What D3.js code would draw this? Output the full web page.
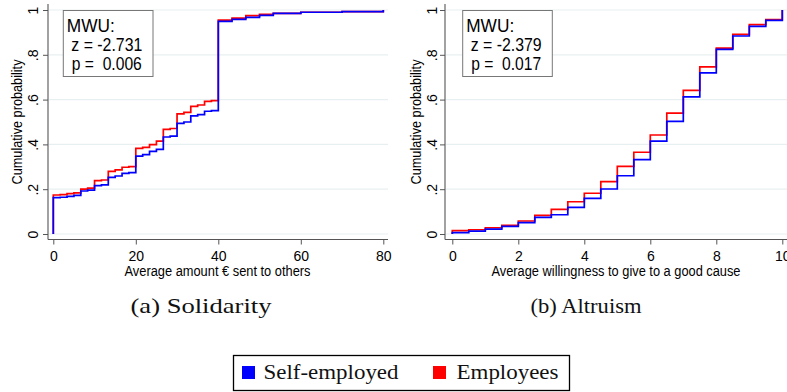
<!DOCTYPE html>
<html>
<head>
<meta charset="utf-8">
<script src="https://cdn.jsdelivr.net/npm/d3@7"></script>
<style>
  body { margin: 0; background: #fff; }
  svg { display: block; }
</style>
</head>
<body>
<svg id="chart" width="787" height="392"></svg>
<script>
// ---- Solidarity: average amount (€) sent to others ----
const solidarityX = [0, 1.67, 3.33, 5, 6.67, 8.33, 10, 11.67, 13.33, 15, 16.67, 18.33, 20, 21.67,
  23.33, 25, 26.67, 28.33, 30, 31.67, 33.33, 35, 36.67, 38.33, 40, 43.33, 46.67, 50, 53.33, 60, 70, 80];
const solidaritySelfEmployed = [0.162, 0.164, 0.168, 0.172, 0.192, 0.196, 0.216, 0.219, 0.253, 0.259,
  0.271, 0.274, 0.348, 0.354, 0.369, 0.378, 0.433, 0.437, 0.494, 0.500, 0.527, 0.533, 0.548, 0.551,
  0.949, 0.958, 0.967, 0.976, 0.985, 0.990, 0.993, 1.0];
const solidarityEmployees = [0.174, 0.176, 0.180, 0.184, 0.200, 0.205, 0.238, 0.241, 0.280, 0.286,
  0.298, 0.301, 0.382, 0.387, 0.399, 0.415, 0.467, 0.471, 0.536, 0.543, 0.570, 0.576, 0.592, 0.595,
  0.955, 0.964, 0.975, 0.981, 0.985, 0.990, 0.993, 1.0];
const solidarityTicks = [0, 20, 40, 60, 80];
const solidarityMWU = ["MWU:", "z = -2.731", "p =  0.006"];

// ---- Altruism: average willingness to give to a good cause ----
const altruismX = [0, 0.5, 1, 1.5, 2, 2.5, 3, 3.5, 4, 4.5, 5, 5.5, 6, 6.5, 7, 7.5, 8, 8.5, 9, 9.5, 10];
const altruismSelfEmployed = [0.006, 0.013, 0.022, 0.034, 0.051, 0.074, 0.086, 0.119, 0.159, 0.201,
  0.260, 0.332, 0.415, 0.503, 0.612, 0.719, 0.824, 0.884, 0.927, 0.954, 1.0];
const altruismEmployees = [0.015, 0.019, 0.028, 0.039, 0.058, 0.083, 0.110, 0.144, 0.182, 0.234,
  0.302, 0.365, 0.442, 0.540, 0.641, 0.746, 0.830, 0.891, 0.935, 0.957, 1.0];
const altruismTicks = [0, 2, 4, 6, 8, 10];
const altruismMWU = ["MWU:", "z = -2.379", "p =  0.017"];

// ---- shared ----
const probTicks = [0, 0.2, 0.4, 0.6, 0.8, 1];
const probTickLabels = ["0", ".2", ".4", ".6", ".8", "1"];
const seriesNames = ["Self-employed", "Employees"];
const seriesColors = ["#0000ff", "#ff0000"];
const yTitle = "Cumulative probability";
const captions = ["(a) Solidarity", "(b) Altruism"];

const SANS = "'Liberation Sans', Arial, Helvetica, sans-serif";
const SERIF = "'Liberation Serif', 'Times New Roman', serif";
const AXIS_COLOR = "#555";
const GRID_COLOR = "#e8eff1";

const svg = d3.select("#chart");
const yScale = d3.scaleLinear().domain([0, 1]).range([234, 10]);
const xAxisY = 239.5;

function drawPanel(p) {
  const g = svg.append("g");
  const x = d3.scaleLinear().domain(p.domain).range(p.range);

  // horizontal grid
  g.append("g").selectAll("line").data(probTicks).join("line")
    .attr("x1", p.axisX + 1).attr("x2", p.right)
    .attr("y1", d => yScale(d)).attr("y2", d => yScale(d))
    .attr("stroke", GRID_COLOR).attr("stroke-width", 1.2);

  // y axis
  const yAxis = g.append("g").attr("transform", `translate(${p.axisX},0)`)
    .call(d3.axisLeft(yScale).tickValues(probTicks)
      .tickFormat((d, i) => probTickLabels[i]).tickSize(5).tickPadding(0));
  yAxis.select(".domain").remove();
  yAxis.selectAll(".tick line").attr("stroke", AXIS_COLOR);
  yAxis.selectAll(".tick text")
    .attr("transform", "rotate(-90)")
    .attr("x", 0).attr("y", p.yLabelOffset).attr("dy", 0)
    .attr("text-anchor", "middle")
    .style("font-family", SANS).style("font-size", "14px").attr("fill", "#000");
  g.append("line").attr("x1", p.axisX).attr("x2", p.axisX)
    .attr("y1", 4).attr("y2", xAxisY).attr("stroke", AXIS_COLOR).attr("stroke-width", 1.1);

  // x axis
  const xAxis = g.append("g").attr("transform", `translate(0,${xAxisY})`)
    .call(d3.axisBottom(x).tickValues(p.ticks).tickFormat(d3.format("d")).tickSize(5).tickPadding(0));
  xAxis.select(".domain").remove();
  xAxis.selectAll(".tick line").attr("stroke", AXIS_COLOR);
  xAxis.selectAll(".tick text").attr("y", 21).attr("dy", 0)
    .style("font-family", SANS).style("font-size", "14px").attr("fill", "#000");
  g.append("line").attr("x1", p.axisX).attr("x2", p.right)
    .attr("y1", xAxisY).attr("y2", xAxisY).attr("stroke", AXIS_COLOR).attr("stroke-width", 1.1);

  // axis titles
  g.append("text").attr("x", p.xTitleX).attr("y", 276).attr("text-anchor", "middle")
    .attr("textLength", p.xTitleLen).attr("lengthAdjust", "spacingAndGlyphs")
    .style("font-family", SANS).style("font-size", "14px").text(p.xTitle);
  g.append("text").attr("transform", `translate(${p.yTitleX},122) rotate(-90)`)
    .attr("text-anchor", "middle").attr("textLength", 125).attr("lengthAdjust", "spacingAndGlyphs")
    .style("font-family", SANS).style("font-size", "14px").text(yTitle);

  // cumulative step curves (employees underneath, self-employed on top)
  const line = d3.line().x(d => x(d[0])).y(d => yScale(d[1])).curve(d3.curveStepAfter);
  [[p.employees, seriesColors[1]], [p.selfEmployed, seriesColors[0]]].forEach(([vals, col]) => {
    const pts = [[p.xs[0], 0]].concat(p.xs.map((v, i) => [v, vals[i]]));
    g.append("path").attr("d", line(pts)).attr("fill", "none")
      .attr("stroke", col).attr("stroke-width", 1.7).attr("stroke-linejoin", "miter");
  });

  // Mann-Whitney U box
  g.append("rect").attr("x", p.box[0]).attr("y", 10.5).attr("width", p.box[1]).attr("height", 66)
    .attr("fill", "#fff").attr("stroke", "#777").attr("stroke-width", 1);
  const lineX = [p.box[0] + 3.5, p.box[0] + 8, p.box[0] + 8.5];
  const lineY = [31.5, 50.5, 70];
  const lineW = [48, 71, 70];
  p.mwu.forEach((t, i) => {
    g.append("text").attr("x", lineX[i]).attr("y", lineY[i])
      .attr("textLength", lineW[i]).attr("lengthAdjust", "spacingAndGlyphs")
      .style("font-family", SANS).style("font-size", "18px").style("white-space", "pre").text(t);
  });
}

drawPanel({
  domain: [0, 80], range: [53.3, 383.3], axisX: 48, right: 388, ticks: solidarityTicks,
  xs: solidarityX, selfEmployed: solidaritySelfEmployed, employees: solidarityEmployees,
  xTitle: "Average amount € sent to others", xTitleX: 217.5, xTitleLen: 186,
  yTitleX: 21.5, yLabelOffset: -10, box: [63.3, 89.7], mwu: solidarityMWU
});
drawPanel({
  domain: [0, 10], range: [452.3, 782.3], axisX: 445, right: 787, ticks: altruismTicks,
  xs: altruismX, selfEmployed: altruismSelfEmployed, employees: altruismEmployees,
  xTitle: "Average willingness to give to a good cause", xTitleX: 616, xTitleLen: 249,
  yTitleX: 420.5, yLabelOffset: -8.5, box: [462.7, 89.6], mwu: altruismMWU
});

// sub-figure captions
const capX = [201, 586], capW = [141, 111];
captions.forEach((c, i) => {
  svg.append("text").attr("x", capX[i]).attr("y", 313).attr("text-anchor", "middle")
    .attr("textLength", capW[i]).attr("lengthAdjust", "spacingAndGlyphs")
    .style("font-family", SERIF).style("font-size", "21px").attr("fill", "#111").text(c);
});

// legend
const legend = svg.append("g");
legend.append("rect").attr("x", 233.5).attr("y", 355.5).attr("width", 336).attr("height", 35)
  .attr("fill", "#fff").attr("stroke", "#000").attr("stroke-width", 1.3);
const swatchX = [242, 433], labelX = [263.5, 456.5], labelW = [135, 102];
seriesNames.forEach((n, i) => {
  legend.append("rect").attr("x", swatchX[i]).attr("y", 366).attr("width", 13).attr("height", 13)
    .attr("fill", seriesColors[i]);
  legend.append("text").attr("x", labelX[i]).attr("y", 379)
    .attr("textLength", labelW[i]).attr("lengthAdjust", "spacingAndGlyphs")
    .style("font-family", SERIF).style("font-size", "20px").attr("fill", "#111").text(n);
});
</script>
</body>
</html>
